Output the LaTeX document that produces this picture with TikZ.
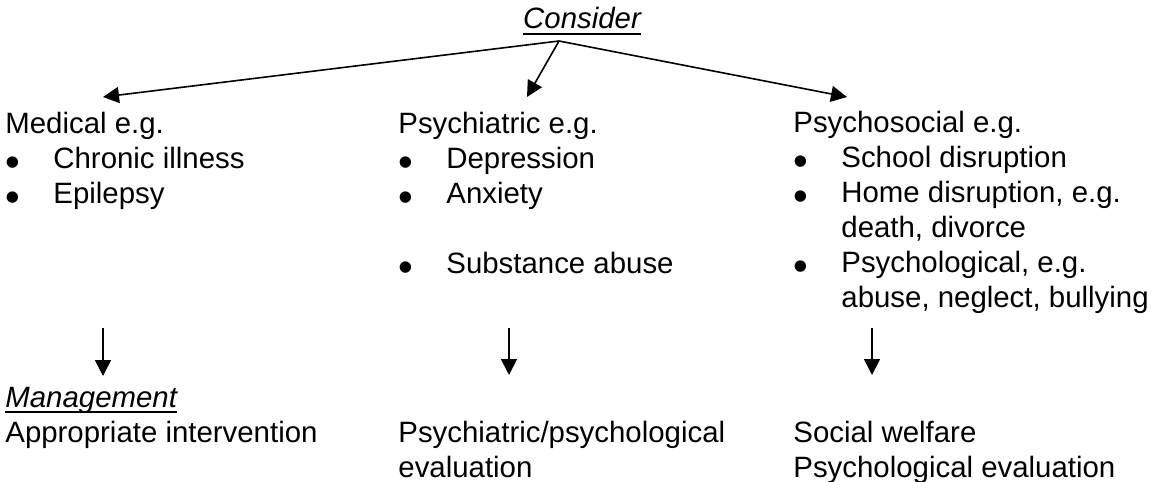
\documentclass[tikz,border=0pt]{standalone}
\usepackage{fontspec}
\setmainfont{Liberation Sans}
\usepackage{tikz}
\usetikzlibrary{arrows.meta, positioning}
\newcommand{\bul}{\makebox[24pt][l]{\smash{\raisebox{-4.3pt}{\fontsize{21}{17.5}\selectfont\textbullet}}}}
\newcommand{\nobul}{\hspace*{24pt}}
\newcommand{\ulhead}[1]{\setbox0\hbox{\itshape #1}\rlap{\rule[-3.2pt]{\wd0}{1.4pt}}\box0}

\begin{document}
\begin{tikzpicture}[x=0.5pt, y=-0.5pt,
  txt/.style={anchor=base west, inner sep=0pt, align=left, font=\fontsize{14.7}{17.5}\selectfont},
  head/.style={txt, anchor=base},
  arr/.style={-{Triangle[length=8pt, width=8pt]}, line width=0.8pt}]
\useasboundingbox (0,0) rectangle (1154,481);
% base anchor sits on the last line
\node[head] (consider) at (582, 29) {\ulhead{Consider}};
\node[txt] (med) at (5, 203) {Medical e.g.\\ \bul Chronic illness\\ \bul Epilepsy};
\node[txt] (psy) at (398, 273) {Psychiatric e.g.\\ \bul Depression\\ \bul Anxiety\\[17.5pt] \bul Substance abuse};
\node[txt] (soc) at (793, 307) {Psychosocial e.g.\\ \bul School disruption\\ \bul Home disruption, e.g.\\ \nobul death, divorce\\ \bul Psychological, e.g.\\ \nobul abuse, neglect, bullying};
\node[txt] (mgmt) at (5, 442) {\ulhead{Management}\\ Appropriate intervention};
\node[txt] (psyev) at (398, 477) {Psychiatric/psychological\\ evaluation};
\node[txt] (socev) at (793, 477) {Social welfare\\ Psychological evaluation};
\coordinate (apex) at (559, 41);
\coordinate (medtip) at (103, 97); \coordinate (psytip) at (527, 97); \coordinate (soctip) at (847, 97);
\coordinate (medout) at (103, 328); \coordinate (psyout) at (509, 328); \coordinate (socout) at (872, 328);
\coordinate (medin) at (103, 376); \coordinate (psyin) at (509, 375); \coordinate (socin) at (872, 375);
\draw[arr] (apex) -- (medtip); \draw[arr] (apex) -- (psytip); \draw[arr] (apex) -- (soctip);
\draw[arr] (medout) -- (medin); \draw[arr] (psyout) -- (psyin); \draw[arr] (socout) -- (socin);
\end{tikzpicture}
\end{document}
